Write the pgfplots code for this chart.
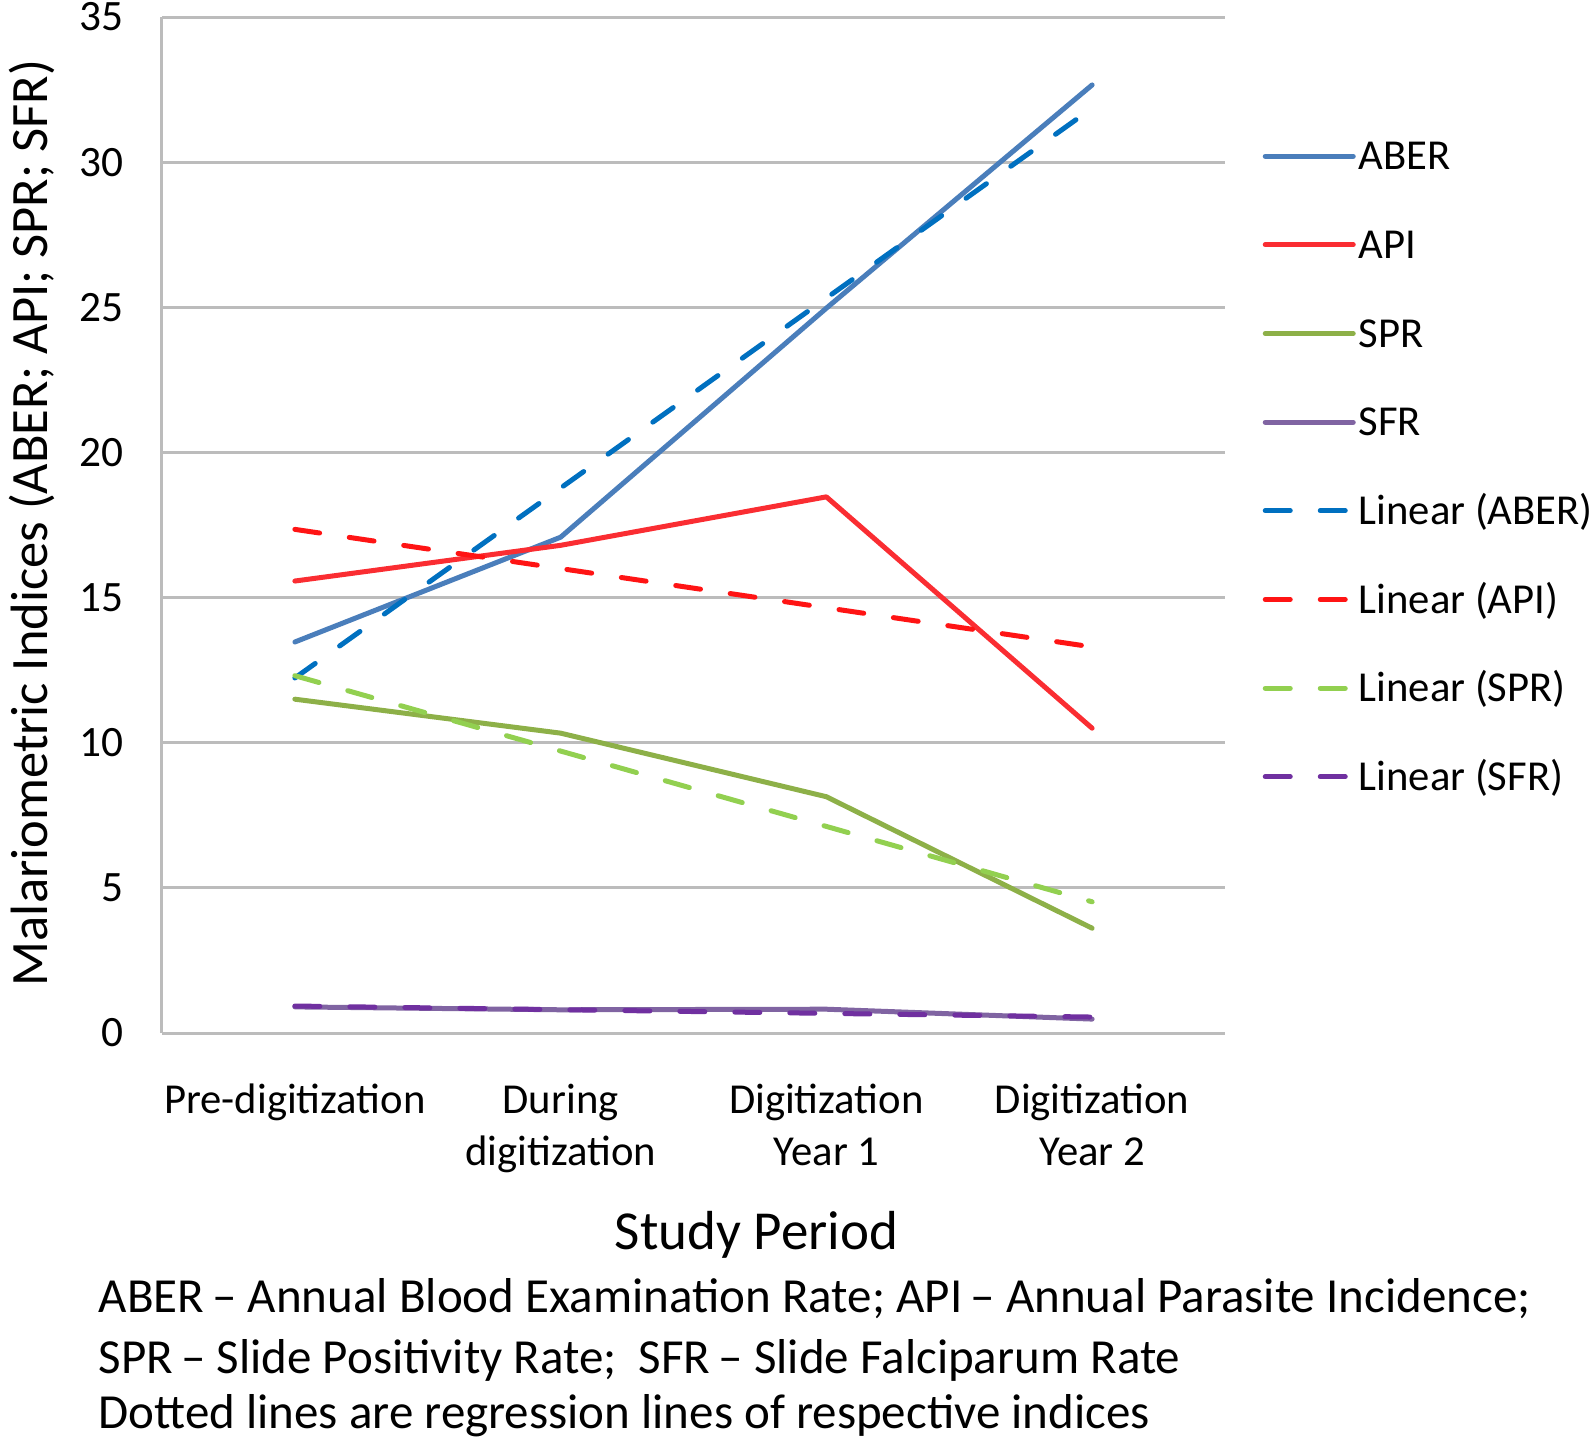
\documentclass[border=0pt]{standalone}
\usepackage{fontspec}
\setmainfont{Carlito}
\usepackage{pgfplots}
\pgfplotsset{compat=1.18}

\definecolor{gridgray}{RGB}{188,188,188}
\definecolor{cABER}{RGB}{74,126,187}
\definecolor{cAPI}{RGB}{250,45,50}
\definecolor{cSPR}{RGB}{141,176,72}
\definecolor{cSFR}{RGB}{128,100,162}
\definecolor{lABER}{RGB}{0,112,192}
\definecolor{lAPI}{RGB}{255,20,20}
\definecolor{lSPR}{RGB}{146,208,80}
\definecolor{lSFR}{RGB}{112,48,160}

\begin{document}
\begin{tikzpicture}
\useasboundingbox (-48.6pt,-121.8pt) rectangle (429.9pt,309.9pt);
\begin{axis}[
  at={(0pt,0pt)}, anchor=south west,
  scale only axis, width=318.9pt, height=304.8pt,
  xmin=-0.5, xmax=3.5, ymin=0, ymax=35,
  xtick={0,1,2,3},
  xticklabels={\strut Pre-digitization, \strut During\\digitization, \strut Digitization\\Year 1, \strut Digitization\\Year 2},
  ytick={0,5,10,15,20,25,30,35},
  ymajorgrids, xmajorgrids=false,
  grid style={line width=0.9pt, color=gridgray},
  major tick length=0pt,
  axis x line*=bottom, axis y line*=left,
  axis line style={line width=0.9pt, color=gridgray, -},
  /pgf/number format/assume math mode=true,
  yticklabel style={font=\fontsize{13}{15}\selectfont, anchor=east, inner sep=0pt, xshift=-11.4pt},
  xticklabel style={font=\fontsize{12.8}{15.6}\selectfont, align=center, anchor=north, inner sep=0pt, yshift=-12.9pt},
  xlabel={Study Period},
  ylabel={Malariometric Indices (ABER; API; SPR; SFR)},
  every axis x label/.style={at={(axis description cs:0.5593,-0.2126)}, anchor=base, font=\fontsize{16.5}{19}\selectfont, inner sep=0pt},
  every axis y label/.style={at={(axis description cs:-0.1080,0.502)}, rotate=90, anchor=base, font=\fontsize{15.75}{19}\selectfont, inner sep=0pt},
  legend cell align=left,
  legend style={draw=none, fill=none, at={(axis description cs:1.0355,0.8765)}, anchor=north west,
    inner sep=0pt, outer sep=0pt, row sep=18.4pt, font=\fontsize{12.8}{15}\selectfont,
    nodes={inner sep=0pt, text height=8.2pt, text depth=0pt},
    /tikz/every odd column/.style={column sep=0.9pt}},
  legend image code/.code={\draw[#1, line cap=round] (0pt,0pt) -- (26.4pt,0pt);},
  every axis plot/.append style={line width=1.5pt, line cap=round, line join=round},
]
\addplot[cABER] coordinates {(0,13.47) (1,17.08) (2,24.97) (3,32.66)};
\addlegendentry{ABER}
\addplot[cAPI] coordinates {(0,15.57) (1,16.80) (2,18.47) (3,10.50)};
\addlegendentry{API}
\addplot[cSPR] coordinates {(0,11.50) (1,10.33) (2,8.14) (3,3.61)};
\addlegendentry{SPR}
\addplot[cSFR] coordinates {(0,0.90) (1,0.80) (2,0.82) (3,0.48)};
\addlegendentry{SFR}
\addplot[lABER, dash pattern=on 7.5pt off 9pt] coordinates {(0,12.23) (3,31.86)};
\addlegendentry{Linear (ABER)}
\addplot[lAPI, dash pattern=on 7.5pt off 9pt] coordinates {(0,17.35) (3,13.30)};
\addlegendentry{Linear (API)}
\addplot[lSPR, dash pattern=on 7.5pt off 9pt] coordinates {(0,12.31) (3,4.52)};
\addlegendentry{Linear (SPR)}
\addplot[lSFR, dash pattern=on 7.5pt off 9pt] coordinates {(0,0.93) (3,0.55)};
\addlegendentry{Linear (SFR)}
\end{axis}
\node[anchor=base west, font=\fontsize{14.7}{17}\selectfont, inner sep=0pt] at (-19.2pt,-83.9pt) {ABER\,– Annual Blood Examination Rate; API\,– Annual Parasite Incidence;};
\node[anchor=base west, font=\fontsize{14.7}{17}\selectfont, inner sep=0pt] at (-19.2pt,-102.0pt) {SPR\,– Slide Positivity Rate;\ \ SFR\,– Slide Falciparum Rate};
\node[anchor=base west, font=\fontsize{14.7}{17}\selectfont, inner sep=0pt] at (-19.2pt,-118.6pt) {Dotted lines are regression lines of respective indices};
\end{tikzpicture}
\end{document}
